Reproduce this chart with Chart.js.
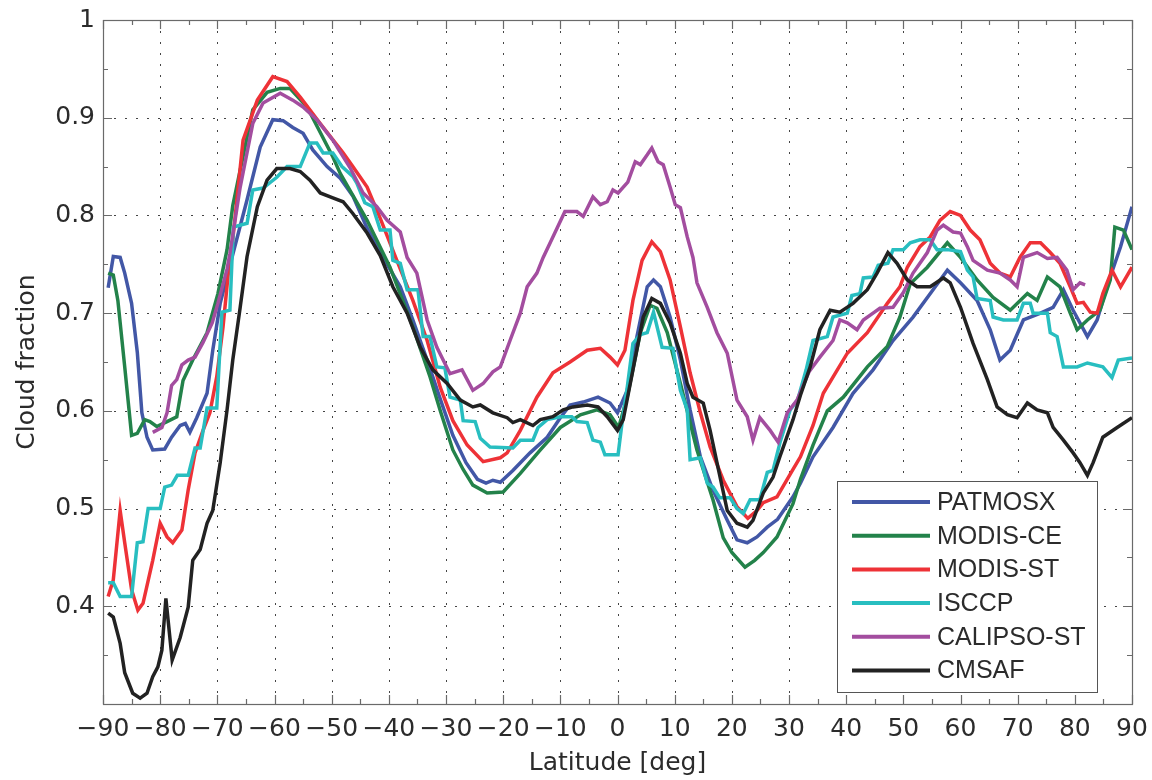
<!DOCTYPE html>
<html>
<head>
<meta charset="utf-8">
<title>Cloud fraction vs latitude</title>
<script src="https://cdn.jsdelivr.net/npm/chart.js@4.4.1/dist/chart.umd.min.js"></script>
<style>
  html, body { margin: 0; padding: 0; background: #fff; }
  canvas { display: block; }
</style>
</head>
<body>
<canvas id="chart" width="1152" height="780"></canvas>
<script>
// zonal mean cloud fraction
const seriesNames = ['PATMOSX', 'MODIS-CE', 'MODIS-ST', 'ISCCP', 'CALIPSO-ST', 'CMSAF'];
const seriesColors = ['#4257a6', '#23824a', '#ee3237', '#28bec0', '#a34d9f', '#222222'];

const latPatmosx = [-89.1,-88.2,-87,-86.2,-85,-84,-83.2,-82.3,-81.3,-79.2,-78,-76.5,-75.6,-74.8,-73.6,-71.8,-70.8,-69.5,-67.3,-64.8,-62.5,-60.3,-58.5,-56.8,-55,-53.3,-50.8,-48.5,-46.3,-43.8,-41.5,-38,-35.8,-33.3,-31,-28.8,-26.5,-24.5,-23,-21.8,-20.5,-18.3,-15.3,-12.3,-10,-8.3,-6,-3.4,-1.3,0,1.7,3.4,5.2,6.3,7.5,9.2,11,12.7,14.5,16.7,19.2,20.9,22.7,24.4,26.2,28,30.7,32,34.2,37.7,41.2,44.7,48.2,51.7,55.2,57.7,60,62.9,65.2,66.9,68.7,71,74,76.2,78,79.7,82.2,83.9,85.6,88,90];
const cfPatmosx = [0.726,0.758,0.757,0.741,0.71,0.66,0.598,0.573,0.56,0.561,0.573,0.585,0.587,0.578,0.593,0.618,0.662,0.71,0.76,0.816,0.87,0.898,0.897,0.89,0.884,0.867,0.85,0.838,0.82,0.787,0.762,0.727,0.693,0.652,0.612,0.575,0.547,0.53,0.526,0.529,0.527,0.539,0.557,0.573,0.593,0.606,0.609,0.614,0.608,0.598,0.621,0.676,0.727,0.734,0.727,0.696,0.652,0.601,0.553,0.519,0.488,0.468,0.465,0.471,0.481,0.489,0.512,0.526,0.553,0.583,0.618,0.642,0.672,0.696,0.724,0.744,0.731,0.713,0.683,0.652,0.662,0.693,0.7,0.706,0.724,0.703,0.676,0.693,0.727,0.768,0.809];

const latModisCE = [-89.1,-88.2,-87.4,-86.2,-85,-84,-82.7,-81.8,-80.6,-78.8,-77.1,-76,-74.3,-71.8,-69.9,-68.3,-67.3,-63.8,-61.3,-59,-57.3,-54.3,-49.8,-48.5,-43.8,-39.8,-35.8,-32.8,-31,-28.8,-27,-25.3,-22.8,-20,-17,-13.5,-10,-6.5,-3.6,-1.3,0.2,1.7,4,5.7,6.9,8.7,11,13.9,16.7,18.5,20,22.3,24,25.5,27.9,30.7,32,34.2,36.7,39.5,43.7,47.2,49.4,51.2,54.2,57.7,60,62.9,65.7,68.7,71.7,73.4,75.2,77.4,79.2,80.4,82.2,84.4,86.2,87,88.5,90];
const cfModisCE = [0.741,0.739,0.713,0.645,0.575,0.577,0.591,0.589,0.584,0.589,0.594,0.631,0.652,0.68,0.72,0.765,0.81,0.908,0.926,0.93,0.93,0.911,0.86,0.843,0.795,0.747,0.686,0.635,0.6,0.56,0.54,0.524,0.516,0.517,0.536,0.56,0.583,0.596,0.601,0.596,0.583,0.614,0.68,0.708,0.705,0.68,0.628,0.56,0.509,0.47,0.455,0.44,0.447,0.455,0.471,0.505,0.53,0.565,0.6,0.614,0.645,0.666,0.696,0.73,0.747,0.772,0.757,0.734,0.716,0.703,0.72,0.713,0.737,0.727,0.7,0.683,0.693,0.703,0.734,0.788,0.785,0.765];

const latModisST = [-89.1,-88.2,-87,-86.2,-85,-83.9,-83,-81.3,-80,-78.8,-77.8,-76.2,-75.1,-73.9,-72.5,-71.3,-70.1,-69,-68.1,-67.3,-65.5,-63,-60.3,-57.8,-55.5,-52,-48,-46.3,-43.8,-41.5,-38.6,-35.8,-33.3,-31,-28.8,-26.3,-23.5,-20.5,-19.3,-17,-14.1,-11.3,-8.3,-5.3,-3,-1.3,0,1.3,2.7,4.3,6,7.5,9.2,11,12.7,14.5,16.2,18.5,20.9,22.8,24.4,25.5,27.9,30.7,32,34.2,36,40.2,43.7,47.2,49.4,50.7,52.9,54.7,56.4,58.2,60,61.7,63.4,65.2,66.9,68.7,70.4,72.2,74,75.7,77.4,79.2,80.4,81.5,82.7,83.9,84.9,86.5,88,90];
const cfModisST = [0.41,0.427,0.498,0.465,0.417,0.396,0.403,0.447,0.485,0.471,0.465,0.478,0.519,0.557,0.58,0.598,0.635,0.686,0.74,0.775,0.877,0.918,0.942,0.937,0.921,0.894,0.864,0.85,0.829,0.797,0.754,0.713,0.672,0.624,0.59,0.565,0.548,0.552,0.557,0.58,0.614,0.639,0.65,0.662,0.664,0.655,0.647,0.662,0.713,0.754,0.773,0.763,0.734,0.686,0.639,0.598,0.563,0.529,0.502,0.49,0.498,0.506,0.512,0.54,0.553,0.585,0.618,0.659,0.68,0.71,0.727,0.747,0.768,0.778,0.795,0.804,0.8,0.785,0.775,0.751,0.741,0.737,0.757,0.772,0.772,0.762,0.751,0.727,0.71,0.711,0.701,0.7,0.72,0.744,0.727,0.747];

const latIsccp = [-89.1,-88.2,-87,-85,-84,-83,-82.1,-80,-79.2,-78,-77,-75.1,-73.9,-73,-71.8,-70.1,-69.2,-67.8,-67.2,-64.8,-63.8,-62,-59.6,-57.8,-55.5,-53.8,-52.6,-51.5,-49.8,-48.2,-46.3,-45.6,-44.2,-42.8,-41.5,-39.8,-39.3,-38,-36.8,-34.9,-34,-32.8,-31.6,-30.2,-29.3,-27.5,-27,-24.9,-24,-22.3,-18.3,-17,-14.8,-13.9,-12.3,-10,-8,-7.1,-5.3,-4.3,-3,-2.2,0.1,0.8,1.7,2.7,4,5.2,6.3,7.8,9.7,11,12.2,12.7,14.5,15.7,16.7,17.9,19.7,20.9,22,23.2,24.9,26.2,27.2,28.4,30.2,31.5,33,34.2,36.7,37.7,40.2,41,42.4,43,44.7,45.6,47.3,48.2,50,51.2,52.9,54.7,55.9,57.7,60,61.2,62.2,62.9,65.2,65.7,67.5,69.9,71,72.2,72.7,75.2,75.7,76.9,78,80.4,82.2,84.9,86.5,87.6,90];
const cfIsccp = [0.424,0.424,0.41,0.41,0.465,0.466,0.5,0.5,0.522,0.524,0.534,0.534,0.562,0.562,0.603,0.603,0.701,0.703,0.788,0.792,0.826,0.828,0.839,0.85,0.85,0.874,0.874,0.864,0.864,0.85,0.84,0.833,0.813,0.809,0.785,0.785,0.754,0.751,0.724,0.724,0.676,0.676,0.645,0.644,0.614,0.611,0.59,0.589,0.572,0.563,0.562,0.57,0.57,0.583,0.591,0.594,0.594,0.589,0.588,0.57,0.568,0.555,0.555,0.588,0.624,0.669,0.678,0.68,0.701,0.665,0.664,0.621,0.601,0.55,0.552,0.526,0.522,0.511,0.511,0.5,0.495,0.509,0.509,0.537,0.539,0.567,0.601,0.611,0.642,0.672,0.676,0.696,0.7,0.718,0.72,0.736,0.737,0.749,0.751,0.765,0.765,0.772,0.775,0.775,0.765,0.765,0.763,0.744,0.737,0.715,0.713,0.696,0.693,0.693,0.71,0.71,0.7,0.7,0.68,0.676,0.645,0.645,0.649,0.645,0.634,0.652,0.654];

const latCalipso = [-81.3,-79.7,-78.8,-78,-77.1,-76.2,-75.1,-73.9,-72.5,-70.9,-69.9,-68.3,-67.8,-66,-63.8,-62,-59,-56.8,-55,-52.6,-49.8,-46.8,-44.5,-42.1,-40.3,-38,-36.8,-35.1,-33.3,-31.6,-29.3,-27.2,-25.3,-23.5,-21.8,-20.5,-18.8,-17,-15.8,-14.1,-13,-11.3,-9.2,-7.1,-6,-4.3,-3,-1.8,-0.8,0.1,1.8,3.1,4,5.2,6,7.1,8,9.2,10.1,11,12.2,13.2,13.9,15.7,17.4,19.2,20.9,22.7,23.7,24.9,26.7,28.1,29.7,31.4,33.5,35.4,37.7,38.9,40.2,41.9,43,44.7,45.9,48.2,50,51.7,54.2,55.9,57,58.7,60,61.2,62.2,64.7,66.9,68.7,69.9,71,73.4,75.2,76.9,78.6,79.7,80.9,81.8];
const cfCalipso = [0.578,0.583,0.598,0.626,0.632,0.647,0.652,0.655,0.67,0.69,0.71,0.745,0.761,0.829,0.894,0.915,0.925,0.918,0.911,0.898,0.877,0.849,0.823,0.809,0.795,0.783,0.757,0.741,0.693,0.665,0.638,0.642,0.621,0.628,0.64,0.645,0.672,0.7,0.727,0.741,0.757,0.778,0.804,0.804,0.799,0.819,0.811,0.814,0.826,0.823,0.834,0.855,0.852,0.862,0.869,0.855,0.852,0.829,0.811,0.808,0.778,0.757,0.731,0.706,0.68,0.659,0.611,0.594,0.57,0.593,0.58,0.568,0.598,0.611,0.64,0.655,0.672,0.693,0.69,0.683,0.693,0.7,0.705,0.706,0.721,0.741,0.762,0.785,0.79,0.783,0.782,0.768,0.754,0.744,0.741,0.734,0.727,0.757,0.762,0.756,0.757,0.744,0.724,0.731,0.729];

const latCmsaf = [-89.1,-88.2,-87,-86.2,-84.8,-83.5,-82.3,-81.3,-80.4,-79.7,-79,-77.9,-76.5,-75.1,-74.3,-73,-71.8,-70.8,-69.5,-68.3,-67.3,-66,-64.8,-63,-61.3,-59.6,-57.3,-55.5,-53.8,-52,-49.8,-48,-46.3,-43.8,-41.5,-39.3,-36.8,-34.5,-32.3,-29.8,-27.5,-25.3,-24,-21.8,-19.3,-18.3,-17,-14.8,-13.5,-11.3,-9.5,-7.8,-5.3,-3.4,-1.8,0,1,2.7,4.5,6,7.5,9.2,11,12.2,13.2,15,16.2,17.4,19.2,20.9,22.7,23.7,25.5,27.2,28.4,30.7,32,33.7,35.4,37.2,38.9,41.2,43.7,45.4,47.3,48.9,50.7,52.4,54.7,57,58.2,60,62.2,64.7,66.4,68.2,69.9,71.7,73.4,75.2,76.2,78,79.7,80.9,82.2,83.2,84.9,87.4,90];
const cfCmsaf = [0.393,0.389,0.362,0.332,0.311,0.306,0.311,0.328,0.338,0.355,0.408,0.345,0.368,0.399,0.447,0.458,0.485,0.498,0.547,0.601,0.652,0.706,0.758,0.809,0.836,0.848,0.848,0.845,0.836,0.823,0.818,0.814,0.802,0.782,0.759,0.727,0.7,0.665,0.642,0.628,0.611,0.604,0.606,0.598,0.593,0.588,0.591,0.585,0.591,0.594,0.601,0.604,0.606,0.604,0.594,0.58,0.591,0.642,0.696,0.715,0.71,0.69,0.659,0.628,0.614,0.608,0.58,0.547,0.498,0.485,0.481,0.488,0.516,0.532,0.553,0.591,0.616,0.645,0.683,0.703,0.701,0.71,0.724,0.741,0.762,0.751,0.734,0.727,0.727,0.736,0.731,0.706,0.669,0.632,0.604,0.596,0.593,0.608,0.601,0.598,0.583,0.57,0.557,0.547,0.534,0.547,0.573,0.583,0.593];

const seriesLats = [latPatmosx, latModisCE, latModisST, latIsccp, latCalipso, latCmsaf];
const seriesValues = [cfPatmosx, cfModisCE, cfModisST, cfIsccp, cfCalipso, cfCmsaf];

const LEGEND_FONT = "'Liberation Sans', Arial, Helvetica, sans-serif";
const AXIS_FONT = "'DejaVu Sans', Verdana, sans-serif";
const TEXT = '#2b2b2b';

function pairs(lats, vals) {
    return lats.map((lat, i) => ({ x: lat, y: vals[i] }));
}

// matlab style box: dotted grid, inward ticks on all four sides
const framePlugin = {
    id: 'frame',
    beforeDatasetsDraw(chart) {
        const { ctx, chartArea: a, scales } = chart;
        const x = scales.x, y = scales.y;
        ctx.save();
        ctx.lineWidth = 1;
        ctx.strokeStyle = '#444';
        ctx.setLineDash([2, 9]);
        for (let v = -80; v <= 80; v += 10) {
            const px = Math.round(x.getPixelForValue(v)) + 0.5;
            ctx.beginPath(); ctx.moveTo(px, a.bottom); ctx.lineTo(px, a.top); ctx.stroke();
        }
        for (let k = 4; k <= 9; k++) {
            const py = Math.round(y.getPixelForValue(k / 10)) + 0.5;
            ctx.beginPath(); ctx.moveTo(a.left, py); ctx.lineTo(a.right, py); ctx.stroke();
        }
        ctx.setLineDash([]);

        ctx.strokeStyle = '#6a6a6a';
        ctx.lineWidth = 1.2;
        ctx.beginPath();
        for (let v = -90; v <= 90; v += 5) {
            const px = Math.round(x.getPixelForValue(v)) + 0.5;
            const len = v % 10 === 0 ? 9 : 5;
            ctx.moveTo(px, a.bottom); ctx.lineTo(px, a.bottom - len);
            ctx.moveTo(px, a.top); ctx.lineTo(px, a.top + len);
        }
        for (let k = 6; k <= 20; k++) {
            const py = Math.round(y.getPixelForValue(k / 20)) + 0.5;
            const len = k % 2 === 0 ? 9 : 5;
            ctx.moveTo(a.left, py); ctx.lineTo(a.left + len, py);
            ctx.moveTo(a.right, py); ctx.lineTo(a.right - len, py);
        }
        ctx.stroke();
        ctx.strokeRect(Math.round(a.left) + 0.5, Math.round(a.top) + 0.5,
            Math.round(a.right - a.left), Math.round(a.bottom - a.top));
        ctx.restore();
    },
    afterDraw(chart) {
        // legend box in the lower right corner
        const ctx = chart.ctx;
        const bx = 837, by = 481, bw = 260, bh = 211;
        ctx.save();
        ctx.fillStyle = '#fff';
        ctx.fillRect(bx, by, bw, bh);
        ctx.strokeStyle = '#555';
        ctx.lineWidth = 1;
        ctx.strokeRect(bx + 0.5, by + 0.5, bw, bh);
        ctx.font = '25px ' + LEGEND_FONT;
        ctx.textBaseline = 'middle';
        seriesNames.forEach((name, i) => {
            const cy = by + 21 + i * 33.7;
            ctx.strokeStyle = seriesColors[i];
            ctx.lineWidth = 4;
            ctx.beginPath(); ctx.moveTo(852, cy); ctx.lineTo(930, cy); ctx.stroke();
            ctx.fillStyle = TEXT;
            ctx.fillText(name, 937, cy + 1);
        });
        ctx.restore();
    }
};

document.addEventListener('DOMContentLoaded', function () {
    const datasets = seriesNames.map((name, i) => ({
        label: name,
        data: pairs(seriesLats[i], seriesValues[i]),
        borderColor: seriesColors[i],
        borderWidth: 3.5,
        pointRadius: 0,
        tension: 0,
        fill: false,
        order: seriesNames.length - i   // CMSAF on top like the original
    }));

    new Chart(document.getElementById('chart').getContext('2d'), {
        type: 'line',
        data: { datasets: datasets },
        options: {
            responsive: false,
            animation: false,
            devicePixelRatio: 1,
            layout: { padding: { top: 20, right: 20, left: 0, bottom: 0 } },
            plugins: {
                legend: { display: false },
                tooltip: { enabled: false }
            },
            scales: {
                x: {
                    type: 'linear',
                    min: -90,
                    max: 90,
                    grid: { display: false, drawTicks: false },
                    border: { display: false },
                    ticks: {
                        stepSize: 10,
                        padding: 10,
                        maxRotation: 0,
                        color: TEXT,
                        font: { family: AXIS_FONT, size: 25 },
                        callback: v => (v < 0 ? '\u2212' + Math.abs(v) : String(v))
                    },
                    title: {
                        display: true,
                        text: 'Latitude [deg]',
                        color: TEXT,
                        font: { family: AXIS_FONT, size: 25 },
                        padding: { top: 0, bottom: 2 }
                    },
                    afterFit: scale => {
                        scale.height = 76;
                        scale.paddingLeft = 0;
                        scale.paddingRight = 0;
                    }
                },
                y: {
                    min: 0.3,
                    max: 1.0,
                    grid: { display: false, drawTicks: false },
                    border: { display: false },
                    ticks: {
                        stepSize: 0.1,
                        padding: 8,
                        color: TEXT,
                        font: { family: AXIS_FONT, size: 25 },
                        callback: v => (Math.abs(v - 0.3) < 1e-6 ? '' : String(+v.toFixed(1)))
                    },
                    title: {
                        display: true,
                        text: 'Cloud fraction',
                        color: TEXT,
                        font: { family: AXIS_FONT, size: 25 },
                        padding: { top: 12, bottom: 0 }
                    },
                    afterFit: scale => {
                        scale.width = 103;
                        scale.paddingTop = 0;
                        scale.paddingBottom = 0;
                    }
                }
            }
        },
        plugins: [framePlugin]
    });
});
</script>
</body>
</html>
